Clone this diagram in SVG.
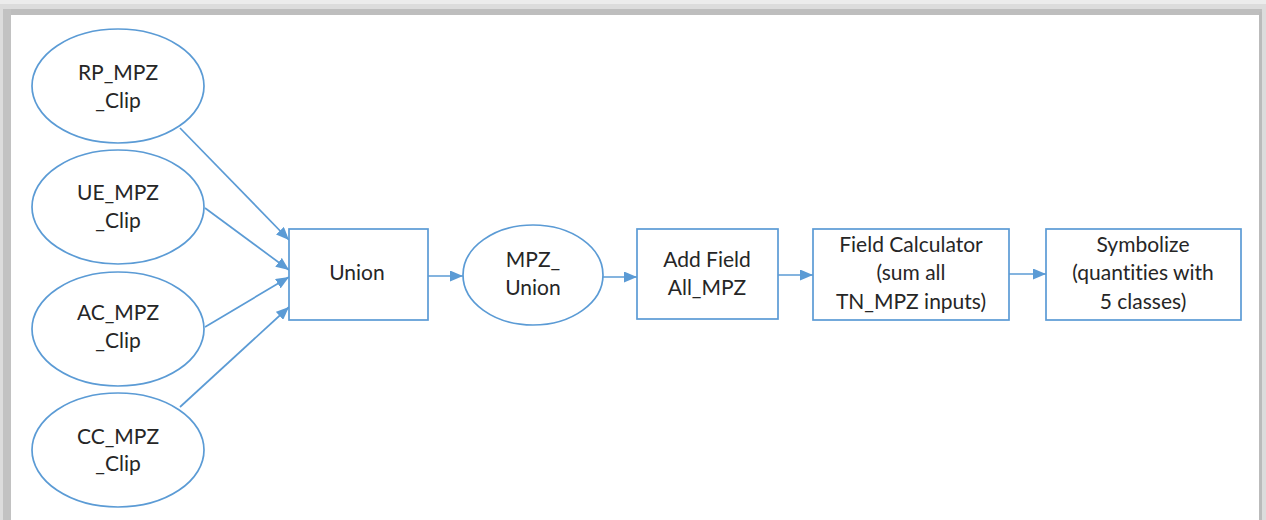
<svg xmlns="http://www.w3.org/2000/svg" width="1266" height="520" viewBox="0 0 1266 520">
<defs>
<style>
.n{fill:#ffffff;stroke:#5b9bd5;stroke-width:1.7}
.t{font-family:Lato,"Open Sans",sans-serif;font-size:21px;fill:#262626;text-anchor:middle;font-variant-ligatures:none;font-feature-settings:"liga" 0}
.c{fill:none;stroke:#5b9bd5;stroke-width:1.7}
</style>
<marker id="ah" viewBox="0 0 13 11" refX="13" refY="5.5" markerWidth="13" markerHeight="11" markerUnits="userSpaceOnUse" orient="auto">
<path d="M0,0 L13,5.5 L0,11 Z" fill="#5b9bd5"/>
</marker>
</defs>
<g id="frame">
<rect x="0" y="0" width="1266" height="520" fill="#dcdcdc"/>
<rect x="0" y="0" width="1266" height="4" fill="#ececec"/>
<rect x="3" y="9" width="1259" height="6" fill="#bebebe"/>
<rect x="3" y="9" width="8" height="511" fill="#c2c2c2"/>
<rect x="1259" y="12" width="3" height="508" fill="#bbbbbb"/>
<rect x="11" y="15" width="1248" height="505" fill="#ffffff"/>
</g>
<g id="connectors">
<line class="c" x1="180" y1="128" x2="289" y2="240" marker-end="url(#ah)"/>
<line class="c" x1="205" y1="208" x2="289" y2="270" marker-end="url(#ah)"/>
<line class="c" x1="205" y1="327" x2="289" y2="277" marker-end="url(#ah)"/>
<line class="c" x1="180" y1="407" x2="289" y2="307" marker-end="url(#ah)"/>
<line class="c" x1="428" y1="276" x2="463" y2="276" marker-end="url(#ah)"/>
<line class="c" x1="603" y1="277" x2="637" y2="277" marker-end="url(#ah)"/>
<line class="c" x1="778" y1="275" x2="813" y2="275" marker-end="url(#ah)"/>
<line class="c" x1="1009" y1="274" x2="1046" y2="274" marker-end="url(#ah)"/>
</g>
<g id="rp">
<ellipse class="n" cx="118" cy="86" rx="86" ry="57"/>
<text class="t" x="118" y="80">RP_MPZ</text>
<text class="t" x="118" y="108">_Clip</text>
</g>
<g id="ue">
<ellipse class="n" cx="118" cy="207" rx="86" ry="57"/>
<text class="t" x="118" y="200">UE_MPZ</text>
<text class="t" x="118" y="228">_Clip</text>
</g>
<g id="ac">
<ellipse class="n" cx="118" cy="329" rx="86" ry="57"/>
<text class="t" x="118" y="320">AC_MPZ</text>
<text class="t" x="118" y="348">_Clip</text>
</g>
<g id="cc">
<ellipse class="n" cx="118" cy="450" rx="86" ry="57"/>
<text class="t" x="118" y="444">CC_MPZ</text>
<text class="t" x="118" y="471">_Clip</text>
</g>
<g id="union">
<rect class="n" x="289" y="229" width="139" height="91"/>
<text class="t" x="357" y="280">Union</text>
</g>
<g id="mpzunion">
<ellipse class="n" cx="533" cy="275" rx="70" ry="50"/>
<text class="t" x="533" y="267">MPZ_</text>
<text class="t" x="533" y="295">Union</text>
</g>
<g id="addfield">
<rect class="n" x="637" y="229" width="141" height="90"/>
<text class="t" x="707" y="267">Add Field</text>
<text class="t" x="707" y="295">All_MPZ</text>
</g>
<g id="fieldcalc">
<rect class="n" x="813" y="229" width="196" height="91"/>
<text class="t" x="911" y="252">Field Calculator</text>
<text class="t" x="911" y="280">(sum all</text>
<text class="t" x="911" y="309">TN_MPZ inputs)</text>
</g>
<g id="symbolize">
<rect class="n" x="1046" y="229" width="195" height="91"/>
<text class="t" x="1143" y="252">Symbolize</text>
<text class="t" x="1143" y="280">(quantities with</text>
<text class="t" x="1143" y="309">5 classes)</text>
</g>
</svg>
